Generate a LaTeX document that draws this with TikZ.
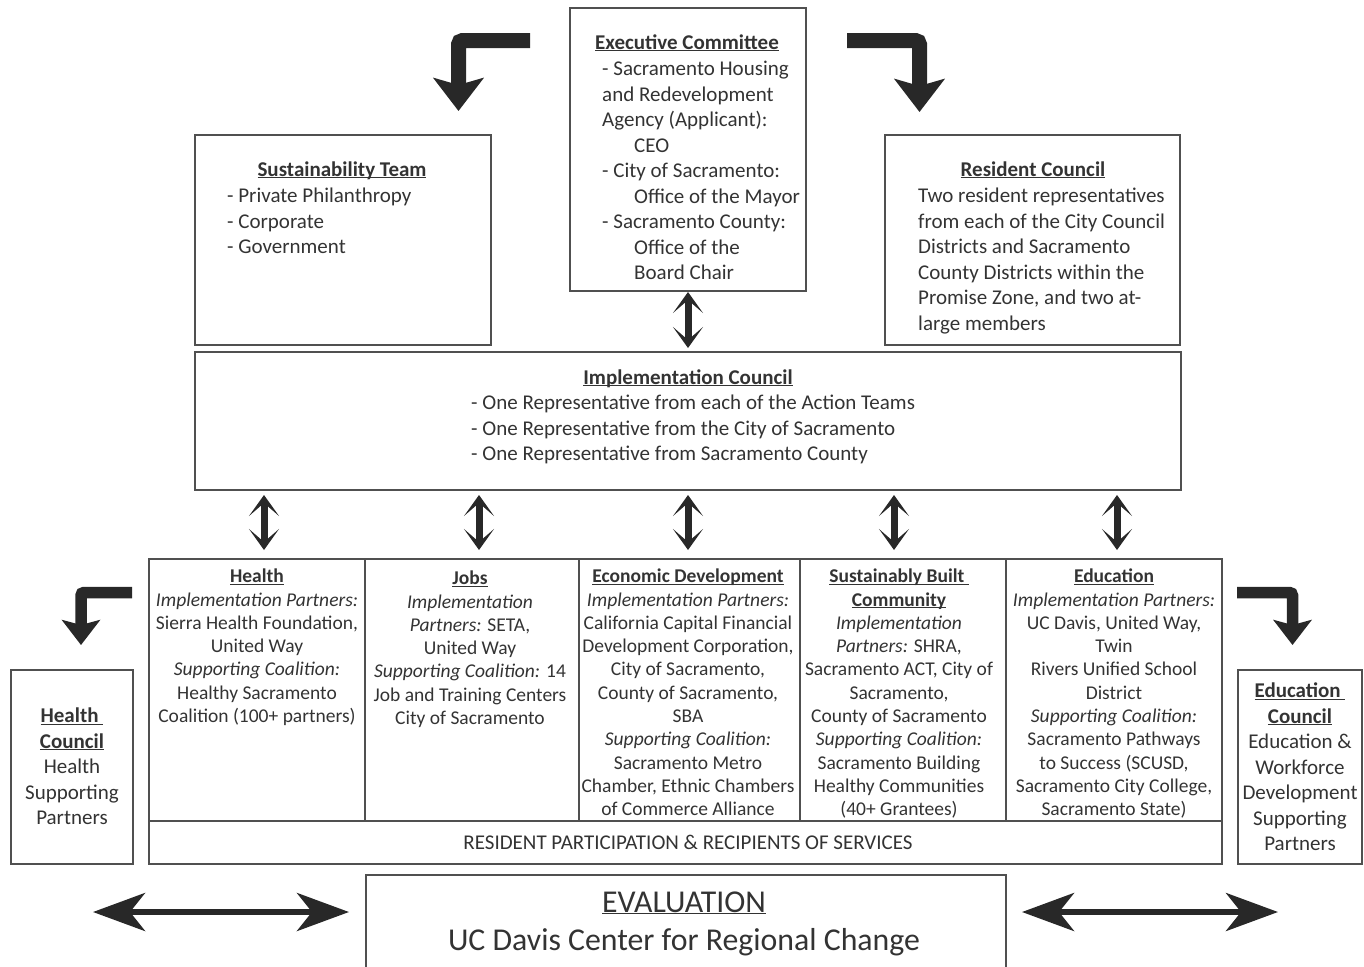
\documentclass[tikz,border=0pt]{standalone}
\usepackage{fontspec}
\setmainfont{Carlito}
\usetikzlibrary{arrows.meta,calc}
\definecolor{inkgray}{HTML}{333333}
\definecolor{linegray}{HTML}{505050}
\definecolor{arrowgray}{HTML}{282828}
\newcommand{\teamhead}[1]{\textbf{\underline{\smash{#1}}}\vphantom{Ay}}
\newcommand{\evalhead}[1]{\underline{\smash{#1}}\vphantom{Ay}}
\newcommand{\ind}{\hspace*{32bp}}
\tikzset{
  box/.style={draw=linegray,line width=2bp,inner sep=0pt,outer sep=0pt},
  txt/.style={text=inkgray,inner sep=0pt,font=\fontsize{21bp}{25.5bp}\selectfont},
  bodytxt/.style={txt,align=left,execute at begin node=\strut},
  coltxt/.style={txt,align=center,font=\fontsize{19.5bp}{23.3bp}\selectfont,execute at begin node=\strut},
  bigtxt/.style={txt,font=\fontsize{31.8bp}{38bp}\selectfont},
  bentbig/.style={draw=arrowgray,line width=15bp,rounded corners=4bp,-{Stealth[length=33bp,width=50bp,inset=7bp]}},
  bentsmall/.style={draw=arrowgray,line width=11.5bp,rounded corners=3bp,-{Stealth[length=25bp,width=38bp,inset=5bp]}},
  updown/.style={draw=arrowgray,line width=7bp,{Stealth[length=21bp,width=30bp,inset=13bp]}-{Stealth[length=21bp,width=30bp,inset=13bp]}},
  leftright/.style={draw=arrowgray,line width=6bp,{Stealth[length=52bp,width=38bp,inset=15bp]}-{Stealth[length=52bp,width=38bp,inset=15bp]}},
}
\begin{document}
\begin{tikzpicture}[x=1bp,y=-1bp]
\useasboundingbox (0,0) rectangle (1364,966);
%% boxes
\node (exec_box) at (688,149.5) [box,minimum width=236bp,minimum height=283bp] {};
\node (sust_box) at (343,240) [box,minimum width=296bp,minimum height=210bp] {};
\node (res_box) at (1032.5,240) [box,minimum width=295bp,minimum height=210bp] {};
\node (impl_box) at (688,421) [box,minimum width=986bp,minimum height=138bp] {};
\node (health_col) at (257,690) [box,minimum width=216bp,minimum height=262bp] {};
\node (jobs_col) at (472,690) [box,minimum width=214bp,minimum height=262bp] {};
\node (econ_col) at (689.5,690) [box,minimum width=221bp,minimum height=262bp] {};
\node (sbc_col) at (903,690) [box,minimum width=206bp,minimum height=262bp] {};
\node (edu_col) at (1114,690) [box,minimum width=216bp,minimum height=262bp] {};
\node (res_strip) at (685.5,842.5) [box,minimum width=1073bp,minimum height=43bp] {};
\node (hc_box) at (72,767) [box,minimum width=122bp,minimum height=194bp] {};
\node (ec_box) at (1300,767) [box,minimum width=124bp,minimum height=194bp] {};
\node (eval_box) at (686,927) [box,minimum width=640bp,minimum height=104bp] {};
%% texts
\node (exec_title) at (687,49) [txt,anchor=base] {\teamhead{Executive Committee}};
\node (exec_text) at (602,61) [bodytxt,anchor=north west] {- Sacramento Housing\\and Redevelopment\\Agency (Applicant):\\\ind CEO\\- City of Sacramento:\\\ind Office of the Mayor\\- Sacramento County:\\\ind Office of the\\\ind Board Chair};
\node (sust_title) at (342,176) [txt,anchor=base] {\teamhead{Sustainability Team}};
\node (sust_text) at (227,188) [bodytxt,anchor=north west] {- Private Philanthropy\\- Corporate\\- Government};
\node (res_title) at (1033,176) [txt,anchor=base] {\teamhead{Resident Council}};
\node (res_text) at (918,188) [bodytxt,anchor=north west] {Two resident representatives\\from each of the City Council\\Districts and Sacramento\\County Districts within the\\Promise Zone, and two at-\\large members};
\node (impl_title) at (688,384) [txt,anchor=base] {\teamhead{Implementation Council}};
\node (impl_text) at (471,395) [bodytxt,anchor=north west] {- One Representative from each of the Action Teams\\- One Representative from the City of Sacramento\\- One Representative from Sacramento County};
\node (health_text) at (257,570) [coltxt,anchor=north] {\teamhead{Health}\\\textit{Implementation Partners:}\\Sierra Health Foundation,\\United Way\\\textit{Supporting Coalition:}\\Healthy Sacramento\\Coalition (100+ partners)};
\node (jobs_text) at (470,572) [coltxt,anchor=north] {\teamhead{Jobs}\\\textit{Implementation}\\\textit{Partners:} SETA,\\United Way\\\textit{Supporting Coalition:} 14\\Job and Training Centers\\City of Sacramento};
\node (econ_text) at (688,570) [coltxt,anchor=north] {\teamhead{Economic Development}\\\textit{Implementation Partners:}\\California Capital Financial\\Development Corporation,\\City of Sacramento,\\County of Sacramento,\\SBA\\\textit{Supporting Coalition:}\\Sacramento Metro\\Chamber, Ethnic Chambers\\of Commerce Alliance};
\node (sbc_text) at (899,570) [coltxt,anchor=north] {\teamhead{Sustainably Built\ }\\\teamhead{Community}\\\textit{Implementation}\\\textit{Partners:} SHRA,\\Sacramento ACT, City of\\Sacramento,\\County of Sacramento\\\textit{Supporting Coalition:}\\Sacramento Building\\Healthy Communities\\(40+ Grantees)};
\node (edu_text) at (1114,570) [coltxt,anchor=north] {\teamhead{Education}\\\textit{Implementation Partners:}\\UC Davis, United Way,\\Twin\\Rivers Unified School\\District\\\textit{Supporting Coalition:}\\Sacramento Pathways\\to Success (SCUSD,\\Sacramento City College,\\Sacramento State)};
\node (strip_text) at (688,849) [txt,anchor=base] {RESIDENT PARTICIPATION \& RECIPIENTS OF SERVICES};
\node (hc_text) at (72,709) [txt,align=center,anchor=north,execute at begin node=\strut] {\teamhead{Health\ }\\\teamhead{Council}\\Health\\Supporting\\Partners};
\node (ec_text) at (1300,684) [txt,align=center,anchor=north,execute at begin node=\strut] {\teamhead{Education\ }\\\teamhead{Council}\\Education \&\\Workforce\\Development\\Supporting\\Partners};
\node (eval_title) at (684,912) [bigtxt,anchor=base] {\evalhead{EVALUATION}};
\node (eval_text) at (684,950) [bigtxt,anchor=base] {UC Davis Center for Regional Change};
%% arrows
\coordinate (tl_start) at (530,40.5);
\coordinate (tl_tip) at (458.5,111);
\coordinate (tr_start) at (847,40.5);
\coordinate (tr_tip) at (919.5,112);
\coordinate (bl_start) at (132,592.5);
\coordinate (bl_tip) at (81,645);
\coordinate (br_start) at (1237,592.5);
\coordinate (br_tip) at (1292.5,645);
\draw [bentbig] (tl_start) -| (tl_tip);
\draw [bentbig] (tr_start) -| (tr_tip);
\draw [bentsmall] (bl_start) -| (bl_tip);
\draw [bentsmall] (br_start) -| (br_tip);
%
\draw [updown,shorten <=1bp,shorten >=4bp] (exec_box.south) -- (impl_box.north);
\draw [updown,shorten <=5bp,shorten >=9bp] ($(impl_box.south -| health_col.north)+(7,0)$) -- ($(health_col.north)+(7,0)$);
\draw [updown,shorten <=5bp,shorten >=9bp] ($(impl_box.south -| jobs_col.north)+(7,0)$) -- ($(jobs_col.north)+(7,0)$);
\draw [updown,shorten <=5bp,shorten >=9bp] ($(impl_box.south -| econ_col.north)+(-1.5,0)$) -- ($(econ_col.north)+(-1.5,0)$);
\draw [updown,shorten <=5bp,shorten >=9bp] ($(impl_box.south -| sbc_col.north)+(-9,0)$) -- ($(sbc_col.north)+(-9,0)$);
\draw [updown,shorten <=5bp,shorten >=9bp] ($(impl_box.south -| edu_col.north)+(3,0)$) -- ($(edu_col.north)+(3,0)$);
%
\coordinate (lr_left) at (93,912);
\coordinate (rr_right) at (1278,912);
\draw [leftright,shorten >=17bp] (lr_left) -- (eval_box.west |- lr_left);
\draw [leftright,shorten <=16bp] (eval_box.east |- rr_right) -- (rr_right);
%
\end{tikzpicture}
\end{document}
